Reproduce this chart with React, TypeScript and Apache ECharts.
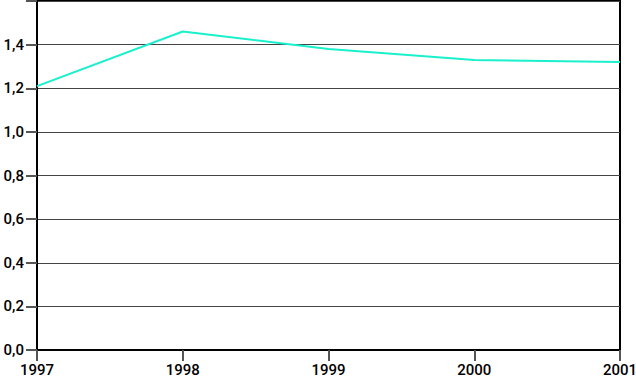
import React, { useEffect, useRef } from "react";
import * as echarts from "echarts";

const years = ["1997", "1998", "1999", "2000", "2001"];
const values = [1.21, 1.46, 1.38, 1.33, 1.32];
const yTicks = [0, 0.2, 0.4, 0.6, 0.8, 1.0, 1.2, 1.4];

export default function App() {
  const ref = useRef<HTMLDivElement>(null);
  useEffect(() => {
    if (!ref.current) return;
    const chart = echarts.init(ref.current, undefined, { renderer: "svg" });
    chart.setOption({
      animation: false,
      grid: {
        left: 37,
        right: 16,
        top: 1,
        bottom: 27,
        show: true,
        borderColor: "#000",
        borderWidth: 2,
        containLabel: false,
        outerBoundsMode: "none",
      },
      xAxis: {
        type: "category",
        data: years,
        boundaryGap: false,
        axisLine: { show: true, onZero: false, lineStyle: { color: "#000", width: 2 } },
        axisTick: { show: true, inside: false, length: 11, lineStyle: { color: "#555", width: 2 } },
        axisLabel: {
          margin: 12,
          color: "#000",
          fontFamily: "Roboto",
          fontWeight: 500,
          fontSize: 15,
          lineHeight: 15,
        },
        splitLine: { show: false },
      },
      yAxis: {
        type: "value",
        min: 0,
        max: 1.6,
        interval: 0.2,
        axisLine: { show: true, lineStyle: { color: "#000", width: 2 } },
        axisTick: { show: true, inside: false, length: 11, lineStyle: { color: "#555", width: 2 } },
        axisLabel: {
          margin: 13,
          color: "#000",
          fontFamily: "Roboto",
          fontWeight: 500,
          fontSize: 15,
          formatter: (v: number) => {
            const t = yTicks.find((x) => Math.abs(x - v) < 1e-6);
            return t === undefined ? "" : t.toFixed(1).replace(".", ",");
          },
        },
        splitLine: { show: true, lineStyle: { color: "#444", width: 1 } },
      },
      series: [
        {
          type: "line",
          data: values,
          symbol: "none",
          lineStyle: { color: "#19f0cc", width: 2 },
        },
      ],
    });
    return () => chart.dispose();
  }, []);
  return <div ref={ref} style={{ width: 636, height: 377, position: "absolute", left: 0, top: 0 }} />;
}
